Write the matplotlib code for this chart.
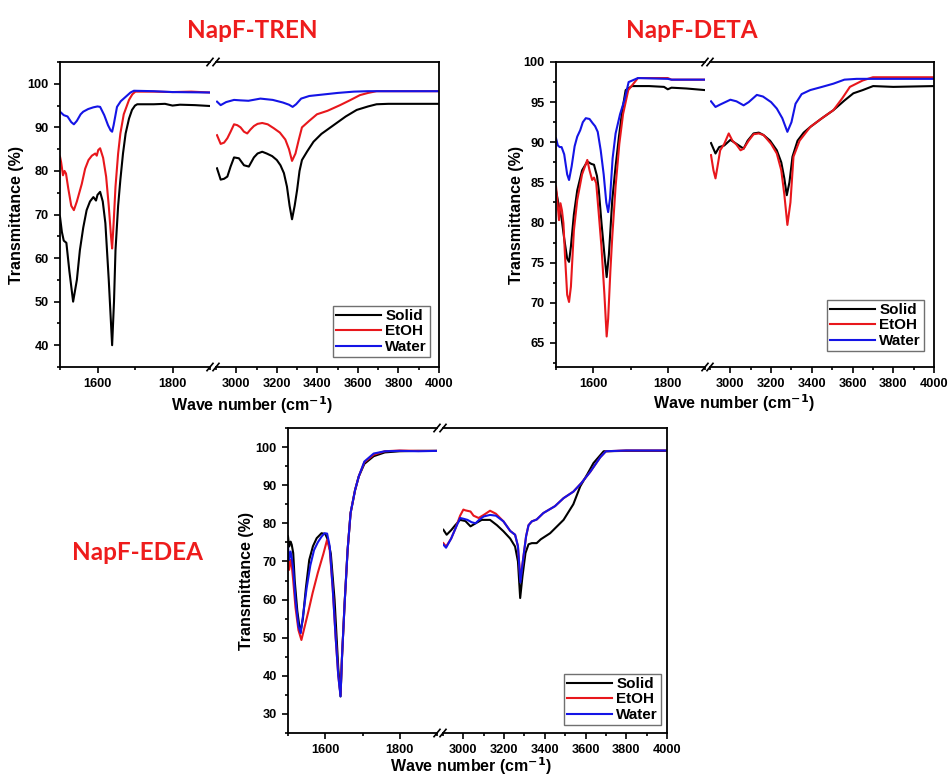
import numpy as np
import matplotlib
matplotlib.use("Agg")
import matplotlib.pyplot as plt
from matplotlib.ticker import MultipleLocator

plt.rcParams["font.family"] = ["Liberation Sans", "DejaVu Sans"]

# ============================================================
# DATA
# ============================================================

series_names = ["Solid", "EtOH", "Water"]
series_colors = ["#000000", "#e8171c", "#1414e6"]

# --- NapF-TREN ---
tren_solid_x = [1500, 1505, 1510, 1517, 1525, 1535, 1545, 1553, 1562, 1571, 1580, 1589, 1596, 1600, 1607,
                1614, 1621, 1630, 1639, 1644, 1648, 1655, 1661, 1668, 1675, 1684, 1692, 1700, 1706, 1750,
                1780, 1800, 1820, 1860, 1900,
                2905, 2923, 2940, 2956, 2972, 2989, 3013, 3038, 3062, 3087, 3105, 3128, 3150, 3177, 3200,
                3218, 3235, 3250, 3263, 3275, 3288, 3300, 3312, 3324, 3350, 3381, 3420, 3480, 3540, 3594,
                3650, 3692, 3750, 3850, 4000]
tren_solid_y = [69.5, 66, 64, 63.5, 57, 50, 55, 61.8, 67, 71, 73, 74, 73.2, 74.5, 75.2,
                73, 68, 55, 40, 50, 61.8, 72, 78, 84, 88.6, 92, 94, 95, 95.3, 95.3,
                95.4, 95.0, 95.2, 95.1, 94.9,
                80.6, 78, 78.2, 78.7, 81, 83.1, 82.9, 81.3, 81, 83.1, 84, 84.4, 84, 83.4, 82.5,
                81.3, 79.5, 76.4, 72, 68.9, 72, 75.6, 80, 82.5, 84.5, 86.7, 88.5, 90.5, 92.5, 94,
                94.8, 95.3, 95.4, 95.4, 95.4]
tren_etoh_x = [1500, 1503, 1508, 1512, 1516, 1522, 1530, 1537, 1545, 1558, 1567, 1576, 1585, 1594, 1598,
               1602, 1607, 1615, 1623, 1630, 1636, 1639, 1643, 1648, 1655, 1661, 1670, 1684, 1693, 1701,
               1750, 1800, 1850, 1900,
               2905, 2923, 2940, 2956, 2972, 2989, 3005, 3021, 3038, 3054, 3070, 3087, 3105, 3128, 3155,
               3185, 3215, 3242, 3260, 3275, 3292, 3308, 3324, 3360, 3398, 3450, 3512, 3560, 3610, 3650,
               3692, 3800, 4000]
tren_etoh_y = [83.3, 82, 79, 80, 79.4, 76, 72, 71, 73, 77, 80.5, 82.5, 83.5, 84, 83.5,
               84.8, 85.2, 83, 78.7, 72, 65, 62.2, 68, 76.4, 84, 88.6, 93, 96.3, 97.6, 98.2,
               98.2, 98.1, 98.2, 98.0,
               88.2, 86.2, 86.5, 87.5, 89, 90.7, 90.5, 90, 89, 88.6, 89.5, 90.3, 90.8, 91, 90.7,
               89.8, 88.8, 87.2, 85, 82.3, 84, 87.1, 90, 91.5, 93, 93.8, 95.1, 96.2, 97.4, 97.9,
               98.3, 98.3, 98.3]
tren_water_x = [1500, 1510, 1520, 1530, 1537, 1545, 1555, 1562, 1575, 1589, 1600, 1607, 1618, 1628, 1635,
                1639, 1643, 1652, 1662, 1675, 1688, 1697, 1750, 1800, 1900,
                2905, 2923, 2950, 2989, 3020, 3060, 3119, 3180, 3230, 3260, 3278, 3295, 3320, 3360, 3420,
                3500, 3580, 3650, 3750, 4000]
tren_water_y = [93.6, 92.8, 92.5, 91.2, 90.7, 91.5, 93, 93.6, 94.2, 94.6, 94.8, 94.7, 92.8, 90.5, 89.3,
                89, 90.5, 94.7, 96, 97, 98, 98.4, 98.3, 98.1, 98.0,
                95.9, 95.1, 95.8, 96.3, 96.2, 96.1, 96.6, 96.3, 95.7, 95.2, 94.7, 95.3, 96.6, 97.2, 97.5,
                97.9, 98.2, 98.3, 98.3, 98.3]

# --- NapF-DETA ---
deta_solid_x = [1500, 1508, 1515, 1522, 1530, 1535, 1540, 1548, 1557, 1570, 1584, 1595, 1602, 1610, 1615,
                1622, 1630, 1636, 1642, 1651, 1660, 1669, 1678, 1687, 1704, 1750, 1790, 1800, 1810, 1850,
                1900,
                2905, 2927, 2945, 2970, 3000, 3030, 3065, 3085, 3114, 3140, 3163, 3195, 3228, 3250, 3265,
                3277, 3290, 3305, 3330, 3360, 3392, 3450, 3506, 3560, 3604, 3650, 3701, 3800, 4000]
deta_solid_y = [84, 82, 80.5, 78, 75.5, 75.1, 77, 81, 84, 86.5, 87.6, 87.3, 87.2, 85.8, 84,
                80, 76, 73.2, 76, 82.8, 87, 90.7, 94, 96.5, 97, 97, 96.9, 96.6, 96.8, 96.7,
                96.5,
                89.9, 88.6, 89.4, 89.6, 90.3, 89.8, 89.2, 90.2, 91.1, 91.2, 90.9, 90.2, 89, 87.5, 85.5,
                83.4, 85, 88.2, 90.2, 91.2, 91.9, 93, 94, 95.2, 96.1, 96.5, 97, 96.9, 97]
deta_etoh_x = [1500, 1503, 1508, 1512, 1516, 1520, 1524, 1530, 1535, 1540, 1548, 1557, 1570, 1584, 1590,
               1597, 1602, 1608, 1615, 1622, 1630, 1636, 1640, 1646, 1651, 1660, 1670, 1680, 1694, 1720,
               1800, 1810, 1900,
               2905, 2917, 2927, 2937, 2950, 2970, 2992, 3010, 3030, 3050, 3065, 3090, 3114, 3140, 3163,
               3200, 3228, 3250, 3265, 3280, 3295, 3310, 3340, 3392, 3450, 3506, 3550, 3587, 3650, 3700,
               3800, 4000]
deta_etoh_y = [84.5, 83, 80.3, 82.4, 81.5, 79.9, 76, 71, 70.1, 72, 79, 82.8, 86, 87.8, 86.5,
               85.3, 85.6, 84.9, 81, 77, 71, 65.8, 68, 74, 78.2, 84.5, 89.8, 93.5, 96.5, 98,
               98, 97.8, 97.8,
               88.4, 86.5, 85.5, 87, 89, 89.8, 91.1, 90.2, 89.7, 89, 89.2, 90.2, 91, 91.1, 90.9,
               89.8, 88.6, 86.5, 83.5, 79.7, 82.5, 88.2, 90.2, 91.9, 93, 94, 95.5, 96.9, 97.7, 98.1,
               98.1, 98.1]
deta_water_x = [1500, 1505, 1510, 1515, 1522, 1530, 1535, 1542, 1550, 1557, 1565, 1572, 1580, 1590, 1598,
                1605, 1612, 1620, 1628, 1635, 1640, 1645, 1652, 1660, 1672, 1684, 1695, 1720, 1800, 1810,
                1900,
                2905, 2927, 2950, 2975, 3000, 3030, 3065, 3090, 3130, 3160, 3200, 3228, 3255, 3280, 3300,
                3320, 3350, 3392, 3450, 3506, 3560, 3620, 3700, 4000]
deta_water_y = [90.5, 89.6, 89.4, 89.4, 88.5, 86, 85.3, 87, 89.5, 90.7, 91.5, 92.5, 93, 92.9, 92.4,
                92, 91.3, 89, 86, 82.5, 81.3, 83, 88, 91.1, 93.5, 95.3, 97.5, 98, 97.9, 97.8,
                97.8,
                95.1, 94.4, 94.7, 95, 95.3, 95.1, 94.6, 95.0, 95.9, 95.7, 95, 94.2, 93, 91.3, 92.5,
                94.8, 96, 96.5, 96.9, 97.3, 97.8, 97.9, 97.9, 97.9]

# --- NapF-EDEA ---
edea_solid_x = [1500, 1503, 1507, 1510, 1514, 1518, 1525, 1533, 1540, 1548, 1557, 1567, 1577, 1590, 1600,
                1607, 1615, 1625, 1635, 1641, 1645, 1652, 1660, 1668, 1680, 1690, 1705, 1730, 1760, 1800,
                1850, 1900,
                2902, 2918, 2940, 2960, 2984, 3010, 3035, 3060, 3090, 3131, 3165, 3197, 3230, 3254, 3268,
                3279, 3290, 3305, 3320, 3336, 3360, 3380, 3426, 3492, 3540, 3574, 3610, 3639, 3689, 3800,
                4000]
edea_solid_y = [76.6, 73.9, 75.2, 74.4, 72.2, 65, 57, 51.2, 55, 63, 70.4, 74, 76.1, 77.4, 77.2,
                75.7, 72, 60, 42, 34.6, 45, 59, 73, 82.7, 88.7, 92.3, 95.6, 97.6, 98.6, 98.9,
                99, 99,
                78.3, 77, 78.2, 79.5, 80.9, 80.6, 79.2, 80, 80.9, 80.9, 79.5, 77.9, 76, 73.9, 70,
                60.4, 66, 72.2, 74.5, 74.8, 74.8, 75.8, 77.4, 80.9, 85, 89.7, 93, 95.8, 98.9, 99,
                99]
edea_etoh_x = [1500, 1503, 1507, 1510, 1514, 1520, 1528, 1536, 1545, 1555, 1566, 1580, 1595, 1605, 1612,
               1620, 1628, 1635, 1641, 1645, 1652, 1660, 1668, 1680, 1690, 1705, 1730, 1760, 1800, 1850,
               1900,
               2902, 2915, 2940, 2960, 2984, 3000, 3010, 3035, 3050, 3075, 3100, 3131, 3160, 3197, 3230,
               3254, 3268, 3280, 3292, 3308, 3320, 3336, 3360, 3393, 3450, 3492, 3540, 3580, 3623, 3672,
               3700, 3800, 4000]
edea_etoh_y = [70.4, 67.8, 70.4, 69, 65, 58, 52, 49.4, 53, 57, 61.7, 67, 72, 75.7, 73,
               63, 50, 40, 35, 45, 59, 73, 82.7, 88.7, 92.3, 96, 98, 98.9, 99.1, 99,
               99,
               74.8, 73.9, 76, 78.5, 82, 83.6, 83.4, 83.1, 82, 81.4, 82.2, 83.3, 82.5, 80.5, 78,
               77, 74, 65.2, 70, 76.6, 79.5, 80.5, 81, 82.7, 84.5, 86.6, 88.3, 90.6, 93.5, 97.3,
               98.9, 99.1, 99.1]
edea_water_x = [1500, 1503, 1507, 1510, 1514, 1520, 1528, 1534, 1542, 1550, 1560, 1570, 1580, 1590, 1598,
                1605, 1612, 1620, 1628, 1635, 1641, 1645, 1652, 1660, 1668, 1680, 1690, 1705, 1730, 1760,
                1800, 1850, 1900,
                2902, 2915, 2940, 2960, 2984, 3000, 3020, 3040, 3060, 3075, 3100, 3131, 3160, 3197, 3230,
                3254, 3268, 3280, 3292, 3308, 3320, 3336, 3360, 3393, 3450, 3492, 3540, 3580, 3623, 3672,
                3700, 3800, 4000]
edea_water_y = [73.9, 70.4, 72.6, 71, 68, 60, 53, 51.2, 57, 63, 69, 73, 75, 76.5, 77.4,
                77.3, 74, 63, 50, 40, 34.6, 45, 59, 73, 82.7, 88.7, 92.3, 96.2, 98.3, 98.9,
                99, 98.9, 99,
                74.4, 73.6, 76, 78.5, 81.4, 81.2, 80.9, 80.3, 80, 80.8, 81.8, 82.2, 82, 80.5, 78,
                77, 74, 64.5, 70, 76.6, 79.5, 80.5, 81, 82.7, 84.5, 86.6, 88.3, 90.6, 93.5, 97.3,
                98.9, 99.1, 99.1]

x_lo_lim = (1500, 1900)
x_hi_lim = (2900, 4000)

# ============================================================
# FIGURE
# ============================================================

W, H = 950, 776
fig = plt.figure(figsize=(W / 100, H / 100), dpi=100)


def px_axes(x0, x1, y0, y1):
    # pixel box (top-left origin) -> figure axes
    return fig.add_axes([x0 / W, 1 - y1 / H, (x1 - x0) / W, (y1 - y0) / H])


def draw_panel(box, ylim, ymajor, yminor, data, legend_box, ylabel_x, xlabel_xy):
    x0, xb0, xb1, x1, y0, y1 = box
    ax_lo = px_axes(x0, xb0, y0, y1)
    ax_hi = px_axes(xb1, x1, y0, y1)

    for (xs, ys), name, col in zip(data, series_names, series_colors):
        xs = np.asarray(xs)
        ys = np.asarray(ys)
        lo = xs < 2000
        ax_lo.plot(xs[lo], ys[lo], color=col, lw=1.5, label=name)
        ax_hi.plot(xs[~lo], ys[~lo], color=col, lw=1.5, label=name)

    ax_lo.set_xlim(*x_lo_lim)
    ax_hi.set_xlim(*x_hi_lim)
    for ax in (ax_lo, ax_hi):
        ax.set_ylim(*ylim)
        for s in ax.spines.values():
            s.set_linewidth(1.3)
        ax.tick_params(which="both", direction="out", width=1.2, labelsize=9.2,
                       top=False, right=False)
        ax.tick_params(which="major", length=4.5)
        ax.tick_params(which="minor", length=2.5)

    ax_lo.yaxis.set_major_locator(MultipleLocator(ymajor))
    ax_lo.yaxis.set_minor_locator(MultipleLocator(yminor))
    ax_hi.set_xticks([3000, 3200, 3400, 3600, 3800, 4000])
    ax_hi.set_xticks([2900, 3100, 3300, 3500, 3700, 3900], minor=True)
    ax_lo.set_xticks([1600, 1800])
    ax_lo.set_xticks([1500, 1700, 1900], minor=True)
    for lab in ax_lo.get_xticklabels() + ax_hi.get_xticklabels() + ax_lo.get_yticklabels():
        lab.set_fontweight("bold")

    ax_lo.spines["right"].set_visible(False)
    ax_hi.spines["left"].set_visible(False)
    ax_hi.tick_params(axis="y", which="both", left=False, labelleft=False)

    # break marks "//"
    d = 0.012
    kw = dict(color="k", lw=1.2, clip_on=False)
    for ax, xe in ((ax_lo, 1.0), (ax_hi, 0.0)):
        t = ax.transAxes
        hw = 3.0 / (ax.get_position().width * W)
        for ye in (0.0, 1.0):
            ax.plot([xe - hw, xe + hw], [ye - d, ye + d], transform=t, **kw)

    fig.text(ylabel_x / W, 1 - ((y0 + y1) / 2) / H, "Transmittance (%)", rotation=90,
             ha="center", va="center", fontsize=11.5, fontweight="bold")
    fig.text(xlabel_xy[0] / W, 1 - xlabel_xy[1] / H, "Wave number (cm$^{\\mathbf{-1}}$)",
             ha="center", va="center", fontsize=11.5, fontweight="bold")

    lx0, lx1, ly0, ly1 = legend_box
    hx0, hx1 = ax_hi.get_position().x0, ax_hi.get_position().x1
    hy0, hy1 = ax_hi.get_position().y0, ax_hi.get_position().y1
    bx = (lx1 / W - hx0) / (hx1 - hx0)
    by = ((1 - ly1 / H) - hy0) / (hy1 - hy0)
    leg = ax_hi.legend(loc="lower right", bbox_to_anchor=(bx, by), borderaxespad=0,
                       frameon=True, fancybox=False, framealpha=1, edgecolor="#707070",
                       prop={"weight": "bold", "size": 11}, handlelength=2.9,
                       handletextpad=0.3, labelspacing=0.1, borderpad=0.2)
    leg.get_frame().set_linewidth(1.0)
    return ax_lo, ax_hi


draw_panel((60, 210, 216, 439, 62, 367), (35, 105), 10, 5,
           [(tren_solid_x, tren_solid_y), (tren_etoh_x, tren_etoh_y), (tren_water_x, tren_water_y)],
           (342, 430, 297, 357), 17, (252, 405))

draw_panel((556, 705, 710, 934, 62, 367), (62, 100), 5, 2.5,
           [(deta_solid_x, deta_solid_y), (deta_etoh_x, deta_etoh_y), (deta_water_x, deta_water_y)],
           (835, 924, 288, 351), 517, (734, 403))

draw_panel((288, 437, 443, 667, 428, 733), (25, 105), 10, 5,
           [(edea_solid_x, edea_solid_y), (edea_etoh_x, edea_etoh_y), (edea_water_x, edea_water_y)],
           (572, 661, 663, 725), 247, (471, 766))

title_kw = dict(color="#ee1c1c", fontsize=17.5, fontweight="bold", family=["Lato", "DejaVu Sans"],
                ha="center", va="center")
fig.text(252 / W, 1 - 30 / H, "NapF-TREN", **title_kw)
fig.text(692 / W, 1 - 30 / H, "NapF-DETA", **title_kw)
fig.text(137 / W, 1 - 553 / H, "NapF-EDEA", **title_kw)

fig.savefig("out.png", dpi=100)
